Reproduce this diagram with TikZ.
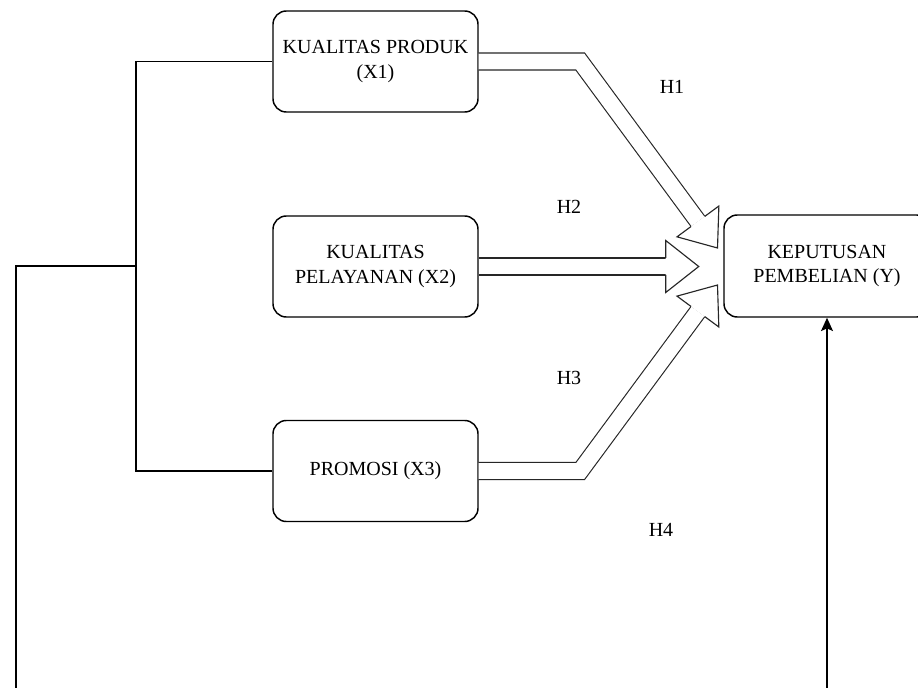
\documentclass[tikz,border=0pt]{standalone}
\usepackage{fontspec}
\setmainfont{Liberation Serif}
\usetikzlibrary{calc,arrows.meta}
\tikzset{
  box/.style={draw, line width=1.1pt, rounded corners=10pt, align=center,
    minimum width=153.75pt, minimum height=75.75pt, inner sep=2pt,
    font=\fontsize{15}{18.5}\selectfont},
  ybox/.style={box, minimum width=154.5pt, minimum height=76.5pt},
  conn/.style={line width=1.1pt},
  hlabel/.style={font=\fontsize{15}{18.5}\selectfont, inner sep=0pt},
  flexbody/.style={draw=black!85, line width=0.85pt, double=white, double distance=11.9pt, line join=miter},
  flexhead/.style={draw=black!85, fill=white, line width=0.85pt, line join=miter}
}
\newcommand\flexarr[3]{%
  \coordinate (fb) at ($(#3)!24.75pt!(#2)$);
  \draw[flexbody] (#1) -- (#2) -- (fb);
  \filldraw[flexhead] ($(fb)!6.375pt!90:(#3)$) -- ($(fb)!19.5pt!90:(#3)$) -- (#3)
     -- ($(fb)!19.5pt!-90:(#3)$) -- ($(fb)!6.375pt!-90:(#3)$);
}
\begin{document}
\begin{tikzpicture}[x=0.75pt,y=-0.75pt]
\useasboundingbox (0,0) rectangle (918,688);
\clip (0,0) rectangle (918,688);
\fill[white] (0,0) rectangle (918,688);

\node[box] (x1) at (375.5,61.5) {KUALITAS PRODUK\\(X1)};
\node[box] (x2) at (375.5,266.5) {KUALITAS\\PELAYANAN (X2)};
\node[box] (x3) at (375.5,471) {PROMOSI (X3)};
\node[ybox] (y) at (827,266) {KEPUTUSAN\\PEMBELIAN (Y)};

\node[hlabel] (h1) at (672,87) {H1};
\node[hlabel] (h2) at (569,207) {H2};
\node[hlabel] (h3) at (569,378) {H3};
\node[hlabel] (h4) at (661,530) {H4};

% bracket
\coordinate (j) at (136,266);
\coordinate (jt) at (x1.west -| j);
\coordinate (jb) at (x3.west -| j);
\draw[conn] (x1.west) -- (jt) -- (jb) -- (x3.west);

% loop to Y
\coordinate (c1) at (16,266);
\coordinate (c2) at (16,720);
\coordinate (c3) at (y.south |- c2);
\draw[conn, -{Stealth[length=10pt,width=9pt,inset=2pt]}] (j) -- (c1) -- (c2) -- (c3) -- (y.south);

% flex arrows
\coordinate (s1) at (x1.east);
\coordinate (b1) at ($(s1)+(101.5,0)$);
\coordinate (t1) at (717.5,248);
\flexarr{s1}{b1}{t1}

\coordinate (s2) at (x2.east);
\coordinate (b2) at ($(s2)+(102,0)$);
\coordinate (t2) at ($(s2)+(220,0)$);
\flexarr{s2}{b2}{t2}

\coordinate (s3) at (x3.east);
\coordinate (b3) at ($(s3)+(101.5,0)$);
\coordinate (t3) at (717.5,285);
\flexarr{s3}{b3}{t3}
\end{tikzpicture}
\end{document}
